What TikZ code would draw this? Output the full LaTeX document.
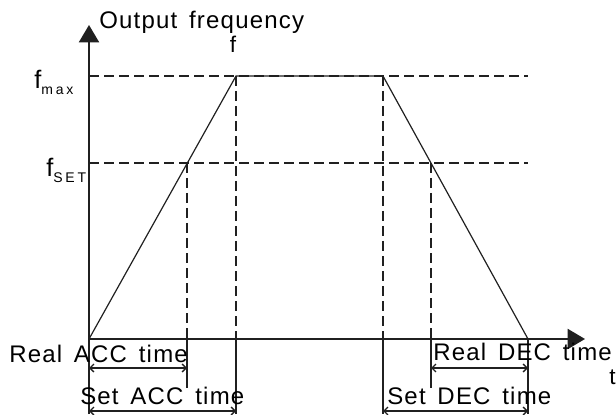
\documentclass[tikz,border=0pt]{standalone}
\usepackage{fontspec}
\setmainfont{Liberation Sans}
\newfontfamily\spacedfont{Liberation Sans}[LetterSpace=5,WordSpace=1.5]
\newfontfamily\widefont{Liberation Sans}[LetterSpace=20]
\usetikzlibrary{arrows.meta}
\definecolor{inkgray}{HTML}{202020}

\tikzset{
  guide/.style={inkgray,line width=1.4pt,dash pattern=on 7.5pt off 3.75pt},
  curve/.style={inkgray,line width=0.9pt},
  span/.style={inkgray,line width=1pt,{Straight Barb[length=3pt,width=6pt]}-{Straight Barb[length=3pt,width=6pt]}},
  tick/.style={inkgray,line width=1pt},
  lbl/.style={anchor=base west,inner sep=0pt,font=\spacedfont\fontsize{18}{20}\selectfont}
}
\newcommand{\sublbl}[1]{\raisebox{-4.5pt}{\widefont\fontsize{10.5}{11}\selectfont #1}}

\begin{document}
\begin{tikzpicture}[x=0.75pt,y=0.75pt]
  \useasboundingbox (0,0) rectangle (616,414);

  % key points of the profile
  \coordinate (O)  at (89,75);
  \coordinate (A)  at (236,338);
  \coordinate (B)  at (383,338);
  \coordinate (C)  at (528,75);
  \coordinate (Pa) at (187,251);
  \coordinate (Pb) at (431,251);
  \coordinate (Ytop) at (89,389);
  \coordinate (Xend) at (585,75);

  % guide lines
  \draw[guide] (89,338) -- (528,338);
  \draw[guide] (89,251) -- (528,251);
  \draw[guide] (A)  -- (A |- O);
  \draw[guide] (B)  -- (B |- O);
  \draw[guide] (Pa) -- (Pa |- O);
  \draw[guide] (Pb) -- (Pb |- O);

  % axes
  \draw[inkgray,line width=1.5pt,-{Triangle[length=13pt,width=15pt]}] (89,0) -- (Ytop);
  \draw[inkgray,line width=1.5pt,-{Triangle[length=13pt,width=15pt]}] (O) -- (Xend);

  % frequency profile
  \draw[curve] (O) -- (A) -- (B) -- (C);

  % time marks below the axis
  \draw[tick] (Pa |- O) -- ++(0,-49);
  \draw[tick] (Pb |- O) -- ++(0,-49);
  \draw[tick] (A |- O) -- ++(0,-75);
  \draw[tick] (B |- O) -- ++(0,-75);
  \draw[tick] (C) -- ++(0,-75);

  \coordinate (ra1) at (89,46);  \coordinate (ra2) at (187,46);
  \coordinate (sa1) at (89,3);   \coordinate (sa2) at (236,3);
  \coordinate (rd1) at (431,46); \coordinate (rd2) at (528,46);
  \coordinate (sd1) at (383,3);  \coordinate (sd2) at (528,3);
  \draw[span] (ra1) -- (ra2);
  \draw[span] (sa1) -- (sa2);
  \draw[span] (rd1) -- (rd2);
  \draw[span] (sd1) -- (sd2);

  % labels
  \node[lbl] (yname) at (99,385) {Output frequency};
  \node[lbl,anchor=base] (ftop) at (233,361) {\fontsize{17}{19}\selectfont f};
  \node[lbl] (fmax) at (34,325) {\fontsize{19}{20}\selectfont f\sublbl{max}};
  \node[lbl] (fset) at (46,237) {\fontsize{19}{20}\selectfont f\sublbl{SET}};
  \node[lbl] (tname) at (609,30) {\fontsize{17}{18}\selectfont t};
  \node[lbl] (realacc) at (9,52) {Real ACC time};
  \node[lbl] (setacc) at (80,10) {Set ACC time};
  \node[lbl] (realdec) at (433,54) {Real DEC time};
  \node[lbl] (setdec) at (387,10) {Set DEC time};
\end{tikzpicture}
\end{document}
